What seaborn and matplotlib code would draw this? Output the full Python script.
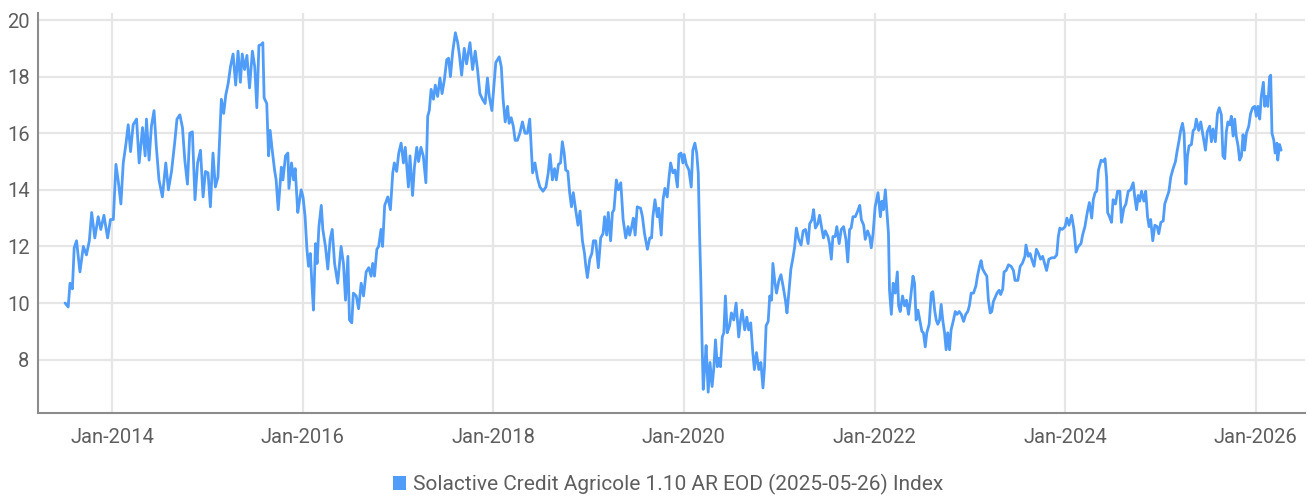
import pandas as pd
import numpy as np
import matplotlib
matplotlib.use("Agg")
import matplotlib.pyplot as plt
import matplotlib.dates as mdates
from matplotlib.patches import Patch
import seaborn as sns

series_name = "Solactive Credit Agricole 1.10 AR EOD (2025-05-26) Index"

# readings taken off the chart, one line per year
dates = [
    "2013-07-04", "2013-07-16", "2013-07-23", "2013-08-01", "2013-08-08", "2013-08-17", "2013-08-30", "2013-09-12", "2013-09-24", "2013-10-05", "2013-10-14", "2013-10-26", "2013-11-08", "2013-11-18", "2013-11-30", "2013-12-14", "2013-12-25",
    "2014-01-05", "2014-01-15", "2014-01-24", "2014-02-03", "2014-02-12", "2014-02-22", "2014-03-03", "2014-03-12", "2014-03-22", "2014-04-04", "2014-04-14", "2014-04-27", "2014-05-07", "2014-05-12", "2014-05-22", "2014-05-31", "2014-06-10", "2014-06-19", "2014-06-29", "2014-07-12", "2014-07-25", "2014-08-04", "2014-08-16", "2014-08-28", "2014-09-06", "2014-09-17", "2014-09-27", "2014-10-06", "2014-10-16", "2014-10-25", "2014-11-04", "2014-11-14", "2014-11-24", "2014-12-05", "2014-12-15", "2014-12-24",
    "2015-01-03", "2015-01-12", "2015-01-22", "2015-01-31", "2015-02-10", "2015-02-17", "2015-02-23", "2015-03-04", "2015-03-12", "2015-03-21", "2015-03-30", "2015-04-09", "2015-04-19", "2015-04-28", "2015-05-07", "2015-05-14", "2015-05-23", "2015-06-01", "2015-06-11", "2015-06-22", "2015-07-01", "2015-07-09", "2015-07-17", "2015-07-30", "2015-08-01", "2015-08-06", "2015-08-16", "2015-08-23", "2015-08-29", "2015-09-06", "2015-09-15", "2015-09-21", "2015-09-29", "2015-10-11", "2015-10-17", "2015-10-27", "2015-11-05", "2015-11-09", "2015-11-19", "2015-11-27", "2015-12-03", "2015-12-13", "2015-12-20", "2015-12-26",
    "2016-01-02", "2016-01-10", "2016-01-17", "2016-01-23", "2016-01-30", "2016-02-05", "2016-02-11", "2016-02-19", "2016-02-25", "2016-03-03", "2016-03-12", "2016-03-18", "2016-03-28", "2016-04-06", "2016-04-15", "2016-04-23", "2016-05-02", "2016-05-14", "2016-05-27", "2016-06-05", "2016-06-13", "2016-06-22", "2016-06-28", "2016-07-07", "2016-07-13", "2016-07-24", "2016-08-02", "2016-08-12", "2016-08-21", "2016-08-31", "2016-09-10", "2016-09-19", "2016-09-25", "2016-10-02", "2016-10-11", "2016-10-18", "2016-10-27", "2016-11-02", "2016-11-10", "2016-11-22", "2016-12-02", "2016-12-11", "2016-12-17", "2016-12-26",
    "2017-01-03", "2017-01-12", "2017-01-21", "2017-01-28", "2017-02-09", "2017-02-15", "2017-02-25", "2017-03-04", "2017-03-13", "2017-03-20", "2017-03-29", "2017-04-07", "2017-04-17", "2017-04-24", "2017-04-30", "2017-05-07", "2017-05-16", "2017-05-23", "2017-06-01", "2017-06-10", "2017-06-18", "2017-06-27", "2017-07-06", "2017-07-13", "2017-07-20", "2017-07-29", "2017-08-08", "2017-08-17", "2017-08-23", "2017-09-01", "2017-09-11", "2017-09-20", "2017-10-03", "2017-10-13", "2017-10-23", "2017-11-01", "2017-11-10", "2017-11-20", "2017-11-30", "2017-12-09", "2017-12-16", "2017-12-26",
    "2018-01-04", "2018-01-10", "2018-01-23", "2018-01-31", "2018-02-07", "2018-02-15", "2018-02-24", "2018-03-02", "2018-03-10", "2018-03-18", "2018-03-25", "2018-04-03", "2018-04-12", "2018-04-22", "2018-05-02", "2018-05-11", "2018-05-20", "2018-05-31", "2018-06-09", "2018-06-19", "2018-06-28", "2018-07-10", "2018-07-21", "2018-07-30", "2018-08-06", "2018-08-15", "2018-08-23", "2018-08-30", "2018-09-07", "2018-09-15", "2018-09-22", "2018-09-29", "2018-10-05", "2018-10-13", "2018-10-20", "2018-10-27", "2018-11-03", "2018-11-12", "2018-11-21", "2018-11-29", "2018-12-08", "2018-12-16", "2018-12-21", "2018-12-27",
    "2019-01-05", "2019-01-13", "2019-01-19", "2019-01-28", "2019-02-07", "2019-02-16", "2019-02-25", "2019-03-03", "2019-03-11", "2019-03-17", "2019-03-26", "2019-04-02", "2019-04-08", "2019-04-17", "2019-04-25", "2019-05-04", "2019-05-13", "2019-05-23", "2019-06-01", "2019-06-07", "2019-06-15", "2019-06-21", "2019-06-28", "2019-07-06", "2019-07-19", "2019-07-26", "2019-08-03", "2019-08-14", "2019-08-23", "2019-08-30", "2019-09-04", "2019-09-12", "2019-09-21", "2019-09-27", "2019-10-06", "2019-10-13", "2019-10-20", "2019-10-29", "2019-11-05", "2019-11-11", "2019-11-20", "2019-11-28", "2019-12-07", "2019-12-13", "2019-12-21", "2019-12-28",
    "2020-01-02", "2020-01-10", "2020-01-20", "2020-01-29", "2020-02-04", "2020-02-12", "2020-02-19", "2020-02-25", "2020-03-01", "2020-03-06", "2020-03-10", "2020-03-15", "2020-03-21", "2020-03-26", "2020-04-03", "2020-04-10", "2020-04-18", "2020-04-25", "2020-05-01", "2020-05-08", "2020-05-14", "2020-05-20", "2020-05-27", "2020-06-02", "2020-06-08", "2020-06-15", "2020-06-24", "2020-07-01", "2020-07-10", "2020-07-19", "2020-07-29", "2020-08-05", "2020-08-11", "2020-08-21", "2020-08-29", "2020-09-05", "2020-09-13", "2020-09-21", "2020-09-27", "2020-10-05", "2020-10-14", "2020-10-22", "2020-10-30", "2020-11-05", "2020-11-11", "2020-11-19", "2020-11-25", "2020-12-02", "2020-12-07", "2020-12-15", "2020-12-21", "2020-12-30",
    "2021-01-07", "2021-01-15", "2021-01-24", "2021-01-30", "2021-02-06", "2021-02-14", "2021-02-21", "2021-02-28", "2021-03-07", "2021-03-16", "2021-03-25", "2021-04-02", "2021-04-11", "2021-04-21", "2021-04-27", "2021-05-06", "2021-05-12", "2021-05-19", "2021-05-28", "2021-06-04", "2021-06-13", "2021-06-19", "2021-06-26", "2021-07-06", "2021-07-12", "2021-07-19", "2021-07-25", "2021-08-03", "2021-08-09", "2021-08-18", "2021-08-26", "2021-09-04", "2021-09-13", "2021-09-20", "2021-09-27", "2021-10-03", "2021-10-10", "2021-10-19", "2021-10-28", "2021-11-05", "2021-11-11", "2021-11-20", "2021-11-26", "2021-12-05", "2021-12-13", "2021-12-19", "2021-12-26",
    "2022-01-03", "2022-01-14", "2022-01-23", "2022-01-29", "2022-02-04", "2022-02-11", "2022-02-17", "2022-02-23", "2022-02-27", "2022-03-06", "2022-03-13", "2022-03-21", "2022-03-29", "2022-04-03", "2022-04-09", "2022-04-18", "2022-04-26", "2022-05-03", "2022-05-11", "2022-05-19", "2022-05-28", "2022-06-03", "2022-06-09", "2022-06-16", "2022-06-25", "2022-07-01", "2022-07-07", "2022-07-14", "2022-07-20", "2022-07-29", "2022-08-06", "2022-08-12", "2022-08-19", "2022-08-25", "2022-08-31", "2022-09-07", "2022-09-13", "2022-09-19", "2022-09-26", "2022-10-02", "2022-10-08", "2022-10-15", "2022-10-21", "2022-10-29", "2022-11-06", "2022-11-13", "2022-11-21", "2022-11-29", "2022-12-08", "2022-12-16", "2022-12-24", "2022-12-30",
    "2023-01-06", "2023-01-15", "2023-01-24", "2023-01-30", "2023-02-07", "2023-02-13", "2023-02-19", "2023-02-28", "2023-03-07", "2023-03-13", "2023-03-20", "2023-03-26", "2023-04-01", "2023-04-08", "2023-04-15", "2023-04-23", "2023-04-29", "2023-05-07", "2023-05-12", "2023-05-20", "2023-05-29", "2023-06-08", "2023-06-17", "2023-06-23", "2023-07-04", "2023-07-13", "2023-07-21", "2023-07-31", "2023-08-04", "2023-08-13", "2023-08-20", "2023-08-26", "2023-09-04", "2023-09-13", "2023-09-21", "2023-09-29", "2023-10-07", "2023-10-16", "2023-10-22", "2023-10-31", "2023-11-11", "2023-11-21", "2023-11-30", "2023-12-06", "2023-12-12", "2023-12-21",
    "2024-01-01", "2024-01-08", "2024-01-16", "2024-01-26", "2024-02-04", "2024-02-12", "2024-02-21", "2024-03-02", "2024-03-08", "2024-03-17", "2024-03-26", "2024-04-03", "2024-04-12", "2024-04-18", "2024-04-25", "2024-05-01", "2024-05-08", "2024-05-18", "2024-05-27", "2024-06-02", "2024-06-08", "2024-06-12", "2024-06-19", "2024-06-27", "2024-07-03", "2024-07-12", "2024-07-20", "2024-07-29", "2024-08-04", "2024-08-13", "2024-08-21", "2024-08-30", "2024-09-08", "2024-09-18", "2024-09-24", "2024-10-01", "2024-10-07", "2024-10-13", "2024-10-20", "2024-10-29", "2024-11-05", "2024-11-12", "2024-11-18", "2024-11-24", "2024-12-02", "2024-12-10", "2024-12-19", "2024-12-25",
    "2025-01-02", "2025-01-11", "2025-01-17", "2025-01-24", "2025-02-02", "2025-02-09", "2025-02-18", "2025-02-27", "2025-03-05", "2025-03-13", "2025-03-19", "2025-03-26", "2025-04-01", "2025-04-08", "2025-04-14", "2025-04-20", "2025-04-29", "2025-05-06", "2025-05-12", "2025-05-18", "2025-05-27", "2025-06-04", "2025-06-13", "2025-06-22", "2025-06-29", "2025-07-08", "2025-07-15", "2025-07-21", "2025-07-30", "2025-08-07", "2025-08-14", "2025-08-22", "2025-08-28", "2025-09-04", "2025-09-10", "2025-09-16", "2025-09-23", "2025-09-29", "2025-10-06", "2025-10-12", "2025-10-18", "2025-10-25", "2025-10-31", "2025-11-07", "2025-11-13", "2025-11-19", "2025-11-26", "2025-12-05", "2025-12-12", "2025-12-20", "2025-12-28",
    "2026-01-03", "2026-01-09", "2026-01-16", "2026-01-22", "2026-01-30", "2026-02-04", "2026-02-10", "2026-02-16", "2026-02-23", "2026-02-27", "2026-03-04", "2026-03-11", "2026-03-16", "2026-03-23", "2026-03-26", "2026-04-02", "2026-04-08",
]

levels = [
    10.0, 9.86, 10.7, 10.5, 11.95, 12.2, 11.1, 12.0, 11.7, 12.2, 13.2, 12.3, 13.05, 12.6, 13.1, 12.3, 12.95,
    12.95, 14.9, 14.3, 13.5, 14.95, 15.6, 16.3, 15.35, 16.3, 16.5, 14.95, 16.2, 15.2, 16.5, 15.05, 16.25, 16.8, 15.5, 14.35, 13.75, 14.95, 14.0, 14.65, 15.65, 16.5, 16.65, 16.2, 15.05, 14.2, 16.0, 16.05, 13.65, 14.95, 15.4, 13.75, 14.65,
    14.6, 13.4, 15.3, 14.1, 14.45, 15.9, 17.2, 16.7, 17.35, 17.75, 18.35, 18.8, 17.7, 18.9, 17.8, 18.8, 18.25, 18.75, 17.6, 18.9, 18.35, 16.9, 19.1, 19.15, 19.2, 17.25, 17.05, 15.2, 16.1, 15.4, 14.7, 14.35, 13.3, 14.8, 14.35, 15.2, 15.3, 14.05, 14.95, 14.35, 14.75, 13.2, 13.65, 14.0,
    13.75, 13.05, 11.9, 11.3, 11.75, 10.7, 9.75, 12.1, 11.4, 12.7, 13.45, 12.6, 12.0, 11.2, 12.25, 12.6, 11.4, 10.7, 12.0, 11.4, 10.1, 11.65, 9.4, 9.3, 10.35, 10.25, 9.8, 10.7, 10.25, 11.1, 11.25, 10.95, 11.4, 10.95, 11.9, 12.0, 12.6, 12.0, 13.45, 13.75, 13.3, 14.6, 14.95, 14.65,
    15.3, 15.65, 14.95, 15.5, 14.1, 15.2, 13.8, 14.8, 15.5, 15.0, 15.5, 15.2, 14.25, 16.6, 16.8, 17.55, 17.2, 17.7, 17.3, 17.95, 17.4, 17.9, 18.6, 18.65, 18.0, 18.9, 19.55, 19.2, 18.8, 18.05, 19.0, 18.45, 19.2, 18.25, 18.9, 18.25, 17.4, 17.2, 17.05, 17.95, 17.3, 16.8,
    17.8, 18.5, 18.7, 18.35, 17.2, 16.4, 16.95, 16.35, 16.55, 16.25, 15.75, 15.75, 16.0, 16.4, 16.0, 16.0, 16.5, 14.6, 14.95, 14.4, 14.1, 13.95, 14.1, 14.6, 15.25, 14.35, 14.75, 14.35, 14.9, 14.95, 15.7, 15.3, 14.7, 14.65, 13.9, 13.4, 13.9, 13.3, 12.75, 13.25, 12.2, 11.75, 11.3, 10.9,
    11.55, 11.75, 12.2, 12.2, 11.25, 12.3, 12.45, 13.05, 12.4, 13.2, 12.2, 13.2, 13.3, 14.35, 14.0, 14.25, 12.95, 12.3, 12.7, 12.4, 12.7, 13.0, 12.4, 13.4, 13.35, 13.05, 12.45, 11.9, 12.3, 12.3, 13.05, 13.65, 13.05, 13.35, 12.4, 13.65, 14.05, 13.75, 14.45, 14.95, 14.6, 14.7, 14.1, 15.25, 15.3, 14.95,
    15.25, 14.9, 14.7, 14.1, 15.4, 15.65, 15.3, 14.6, 12.45, 10.7, 8.8, 6.95, 7.75, 8.5, 6.85, 7.9, 7.05, 7.75, 8.7, 7.75, 8.05, 7.75, 8.8, 8.95, 10.25, 8.95, 9.2, 9.65, 9.4, 10.0, 8.8, 9.4, 9.75, 9.05, 9.5, 9.05, 9.3, 8.25, 7.65, 8.25, 7.65, 7.9, 7.0, 7.75, 9.2, 9.35, 10.25, 10.1, 11.4, 10.7, 10.35, 10.8,
    11.0, 10.6, 10.1, 9.65, 10.35, 11.2, 11.55, 11.95, 12.65, 12.25, 12.05, 12.55, 12.6, 12.1, 12.8, 12.95, 13.3, 12.65, 12.8, 13.1, 12.6, 12.3, 12.55, 12.35, 12.1, 11.55, 12.35, 12.35, 12.7, 12.1, 12.6, 12.7, 12.25, 11.45, 12.6, 12.65, 13.05, 13.05, 13.25, 13.45, 12.95, 12.75, 12.25, 12.55, 12.35, 11.95, 12.45,
    13.4, 13.9, 13.05, 13.6, 13.3, 14.0, 13.2, 12.45, 10.45, 9.6, 10.7, 10.35, 11.1, 9.9, 9.7, 10.25, 9.9, 10.1, 9.6, 10.2, 10.95, 10.7, 9.4, 9.75, 9.3, 9.0, 8.95, 8.45, 8.95, 9.25, 10.35, 10.4, 9.75, 9.4, 9.25, 9.4, 9.95, 9.4, 8.95, 8.35, 8.95, 8.35, 9.05, 9.35, 9.7, 9.6, 9.7, 9.6, 9.35, 9.6, 9.7, 9.9,
    10.35, 10.35, 10.6, 10.95, 11.3, 11.5, 11.2, 11.05, 10.95, 10.1, 9.65, 9.7, 10.05, 10.2, 10.35, 10.45, 10.3, 10.5, 11.1, 11.15, 11.35, 11.3, 11.15, 10.8, 10.8, 11.3, 11.4, 11.65, 12.05, 11.65, 11.75, 11.55, 11.3, 11.9, 11.75, 11.55, 11.65, 11.35, 11.15, 11.55, 11.6, 11.6, 11.7, 12.35, 12.65, 12.6,
    12.7, 13.0, 12.75, 13.1, 12.6, 11.8, 12.0, 12.1, 12.4, 12.7, 13.2, 13.55, 13.0, 13.65, 13.9, 13.95, 14.7, 15.05, 15.0, 15.1, 14.45, 13.2, 13.05, 12.85, 13.65, 13.5, 13.95, 13.95, 12.85, 13.35, 13.5, 13.95, 14.0, 14.25, 13.75, 13.3, 13.8, 13.6, 13.95, 13.6, 13.95, 13.05, 12.7, 12.95, 12.2, 12.75, 12.7, 12.45,
    12.85, 12.9, 13.5, 13.7, 13.95, 14.45, 14.75, 15.0, 15.35, 15.75, 16.1, 16.35, 16.0, 14.2, 15.2, 15.55, 15.6, 16.1, 16.15, 16.5, 16.1, 16.4, 15.9, 15.4, 16.05, 16.25, 15.7, 16.15, 15.7, 16.7, 16.9, 16.65, 15.2, 15.1, 16.05, 16.4, 16.3, 16.6, 15.9, 16.5, 15.9, 15.55, 15.05, 15.2, 15.95, 15.4, 16.0, 16.25, 16.7, 16.9, 16.95,
    16.6, 16.95, 16.5, 17.3, 17.8, 16.95, 17.3, 16.95, 18.0, 18.05, 16.0, 15.75, 15.3, 15.65, 15.05, 15.6, 15.4,
]

y_ticks = [8, 10, 12, 14, 16, 18, 20]
tick_years = [2014, 2016, 2018, 2020, 2022, 2024, 2026]

assert len(dates) == len(levels), (len(dates), len(levels))

line_color = "#4f9cf9"
grid_color = "#e6e6e6"
text_color = "#5e5e5e"

sns.set_style("white")
plt.rcParams['font.family'] = ['Roboto', 'DejaVu Sans']

data = pd.DataFrame({"date": pd.to_datetime(dates), "level": levels})

fig = plt.figure(figsize=(13.08, 4.98), dpi=100)
ax = fig.add_axes([0.029, 0.171, 0.969, 0.803])

sns.lineplot(data=data, x="date", y="level", ax=ax, color=line_color,
             linewidth=2.0, legend=False)

ax.set_xlim(pd.Timestamp("2013-03-22"), pd.Timestamp("2026-07-10"))
ax.set_ylim(6.12, 20.25)

ax.set_yticks(y_ticks)
ax.set_xticks([pd.Timestamp(f"{y}-01-01") for y in tick_years])
ax.xaxis.set_major_formatter(mdates.DateFormatter("%b-%Y"))

ax.grid(True, color=grid_color, linewidth=1.6)
ax.set_axisbelow(True)
ax.set_xlabel("")
ax.set_ylabel("")

for side in ["top", "right"]:
    ax.spines[side].set_visible(False)
for side in ["left", "bottom"]:
    ax.spines[side].set_color("#8c8c8c")
    ax.spines[side].set_linewidth(1.5)

ax.tick_params(axis="both", length=0, labelsize=14.5, labelcolor=text_color)
ax.tick_params(axis="x", pad=11)
ax.tick_params(axis="y", pad=6)

handle = Patch(facecolor=line_color, edgecolor="none", label=series_name)
ax.legend(handles=[handle], loc="center", bbox_to_anchor=(0.497, -0.178),
          frameon=False, fontsize=15, labelcolor=text_color,
          handlelength=0.65, handleheight=0.65, handletextpad=0.3)

fig.savefig("out.png", dpi=100)
